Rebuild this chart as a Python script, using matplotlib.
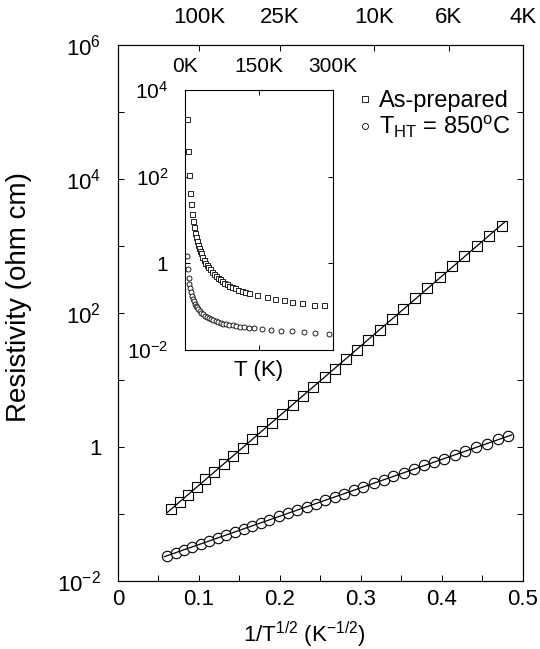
import numpy as np
import matplotlib
matplotlib.use("Agg")
import matplotlib.pyplot as plt
from matplotlib.ticker import FixedLocator, FuncFormatter, MultipleLocator

plt.rcParams["font.family"] = ["Liberation Sans", "DejaVu Sans"]
plt.rcParams["mathtext.fontset"] = "custom"
plt.rcParams["mathtext.rm"] = "Liberation Sans"
plt.rcParams["mathtext.it"] = "Liberation Sans:italic"
plt.rcParams["mathtext.bf"] = "Liberation Sans:bold"

# main panel: resistivity vs 1/T^(1/2)
x_asprep = [0.065, 0.076, 0.086, 0.097, 0.108, 0.119, 0.131, 0.142, 0.154, 0.166,
            0.178, 0.190, 0.203, 0.216, 0.228, 0.241, 0.255, 0.268, 0.282, 0.295,
            0.309, 0.323, 0.338, 0.352, 0.367, 0.382, 0.397, 0.412, 0.427, 0.443,
            0.458, 0.474]
rho_asprep = [0.117, 0.153, 0.194, 0.252, 0.327, 0.426, 0.566, 0.736, 0.98, 1.30,
              1.74, 2.31, 3.15, 4.29, 5.71, 7.80, 10.9, 14.8, 20.7, 28.2,
              39.4, 55.0, 80.0, 114, 165, 236, 345, 495, 700, 990,
              1400, 2010]

x_ht850 = [0.061, 0.071, 0.081, 0.091, 0.102, 0.112, 0.123, 0.133, 0.144, 0.155,
           0.165, 0.176, 0.187, 0.199, 0.210, 0.221, 0.233, 0.244, 0.256, 0.268,
           0.279, 0.291, 0.303, 0.316, 0.328, 0.340, 0.353, 0.365, 0.378, 0.390,
           0.403, 0.416, 0.429, 0.442, 0.455, 0.469, 0.482]
rho_ht850 = [0.0240, 0.0264, 0.0292, 0.0322, 0.0356, 0.0394, 0.0436, 0.0484, 0.0537, 0.0596,
             0.0663, 0.0738, 0.0822, 0.0917, 0.102, 0.114, 0.128, 0.143, 0.160, 0.179,
             0.201, 0.226, 0.254, 0.286, 0.322, 0.363, 0.410, 0.468, 0.530, 0.593,
             0.671, 0.762, 0.880, 0.982, 1.10, 1.30, 1.45]

# top axis temperature labels
top_T = [100, 25, 10, 6, 4]
top_labels = ["100K", "25K", "10K", "6K", "4K"]

# inset: resistivity vs T
T_in_asprep = [4.4, 6.1, 8.1, 10.3, 12.1, 14.2, 16, 18, 20, 22, 24, 26, 28, 30, 32,
               35, 38, 41, 44, 47, 50, 54, 58, 62, 66, 70, 75, 80, 85, 90, 96, 102,
               108, 115, 122, 130, 146, 166, 183, 200, 217, 237, 261, 281]
rho_in_asprep = [2140, 386, 108, 41.9, 23.5, 13.9, 9.66, 6.86, 5.14, 4.02, 3.24, 2.67,
                 2.25, 1.94, 1.69, 1.40, 1.19, 1.03, 0.906, 0.807, 0.726, 0.640, 0.570,
                 0.514, 0.469, 0.431, 0.391, 0.358, 0.331, 0.308, 0.284, 0.264, 0.247,
                 0.232, 0.220, 0.210, 0.190, 0.168, 0.153, 0.140, 0.129, 0.119, 0.112,
                 0.108]

T_in_ht850 = [4.3, 5.9, 7.5, 9, 10.5, 12, 14, 16, 18, 20, 22, 24, 27, 30, 33, 36, 40,
              44, 48, 52, 57, 62, 67, 72, 78, 84, 90, 97, 104, 112, 120, 130, 139,
              156, 175, 195, 217, 241, 264, 291]
rho_in_ht850 = [1.45, 0.730, 0.463, 0.340, 0.268, 0.220, 0.179, 0.151, 0.132, 0.117,
                0.106, 0.0966, 0.0863, 0.0783, 0.0721, 0.0671, 0.0618, 0.0575, 0.0541,
                0.0512, 0.0481, 0.0458, 0.0440, 0.0423, 0.0406, 0.0392, 0.0380, 0.0368,
                0.0357, 0.0347, 0.0338, 0.0328, 0.0320, 0.0306, 0.0293, 0.0280, 0.0268,
                0.0256, 0.0245, 0.0234]

fig = plt.figure(figsize=(5.4, 6.49), dpi=100)
ax = fig.add_axes([0.2185, 0.1048, 0.75, 0.826])

ax.set_yscale("log")
ax.set_xlim(0, 0.5)
ax.set_ylim(1e-2, 1e6)

ax.plot(x_asprep, rho_asprep, ls="none", marker="s", ms=6.5, mfc="white",
        mec="black", mew=0.8)
ax.plot(x_ht850, rho_ht850, ls="none", marker="o", ms=7.5, mfc="white",
        mec="black", mew=0.8)

# straight fits (log rho linear in T^-1/2)
for xs, ys in [(x_asprep, rho_asprep), (x_ht850, rho_ht850)]:
    p = np.polyfit(xs, np.log10(ys), 1)
    xf = np.array([xs[0] - 0.004, xs[-1] + 0.004])
    ax.plot(xf, 10 ** np.polyval(p, xf), color="black", lw=0.9)

ax.yaxis.set_major_locator(FixedLocator([10.0 ** k for k in range(-2, 7)]))
ax.yaxis.set_minor_locator(FixedLocator([]))


def main_ylab(v, pos):
    k = int(round(np.log10(v)))
    if k % 2:
        return ""
    if k == 0:
        return "1"
    return r"$\mathregular{10^{%d}}$" % k


ax.yaxis.set_major_formatter(FuncFormatter(main_ylab))
ax.xaxis.set_major_locator(MultipleLocator(0.1))
ax.xaxis.set_minor_locator(MultipleLocator(0.05))
ax.xaxis.set_major_formatter(FuncFormatter(lambda v, p: "0" if v == 0 else "%g" % v))
ax.tick_params(which="both", direction="in", length=4, width=0.7, labelsize=16,
               right=True, top=False)
ax.tick_params(axis="x", pad=6)
ax.tick_params(axis="y", pad=12)

ax.set_ylabel("Resistivity (ohm cm)", fontsize=20)
ax.yaxis.set_label_coords(-0.212, 0.53)
ax.set_xlabel(r"1/T$^{\mathregular{1/2}}$ (K$^{\mathregular{-1/2}}$)", fontsize=16)
ax.xaxis.set_label_coords(0.46, -0.072)

for s in ax.spines.values():
    s.set_linewidth(0.8)

top = ax.twiny()
top.set_xlim(ax.get_xlim())
top.set_xticks([1 / np.sqrt(t) for t in top_T])
top.set_xticklabels(top_labels)
top.tick_params(direction="in", length=4, width=0.7, labelsize=16, pad=12)

# inset
ax_in = fig.add_axes([0.3426, 0.4607, 0.274, 0.4006])
ax_in.set_yscale("log")
ax_in.set_xlim(0, 300)
ax_in.set_ylim(1e-2, 1e4)
h1, = ax_in.plot(T_in_asprep, rho_in_asprep, ls="none", marker="s", ms=3.6,
                 mfc="white", mec="black", mew=0.6, label="As-prepared")
h2, = ax_in.plot(T_in_ht850, rho_in_ht850, ls="none", marker="o", ms=3.6,
                 mfc="white", mec="black", mew=0.6,
                 label=r"T$_\mathregular{HT}$ = 850$^{\mathregular{o}}$C")
ax_in.yaxis.set_major_locator(FixedLocator([1e-2, 1, 1e2, 1e4]))
ax_in.yaxis.set_minor_locator(FixedLocator([]))
ax_in.yaxis.set_major_formatter(FuncFormatter(
    lambda v, p: "1" if abs(v - 1) < 1e-9 else r"$\mathregular{10^{%d}}$" % int(round(np.log10(v)))))
ax_in.set_xticks([0, 150, 300])
ax_in.set_xticklabels(["0K", "150K", "300K"])
ax_in.tick_params(direction="in", length=3.5, width=0.7, labelsize=15,
                  top=True, right=True, labeltop=True, labelbottom=False)
ax_in.tick_params(axis="x", pad=10)
ax_in.tick_params(axis="y", pad=12)
ax_in.set_xlabel("T (K)", fontsize=16, labelpad=7)
for s in ax_in.spines.values():
    s.set_linewidth(0.8)

ax.legend(handles=[h1, h2], loc="upper left", bbox_to_anchor=(0.595, 0.915),
          frameon=False, fontsize=17, handlelength=0.5, handletextpad=0.35,
          labelspacing=0.05, borderaxespad=0, borderpad=0, markerscale=1.2)

fig.savefig("out.png", dpi=100)
